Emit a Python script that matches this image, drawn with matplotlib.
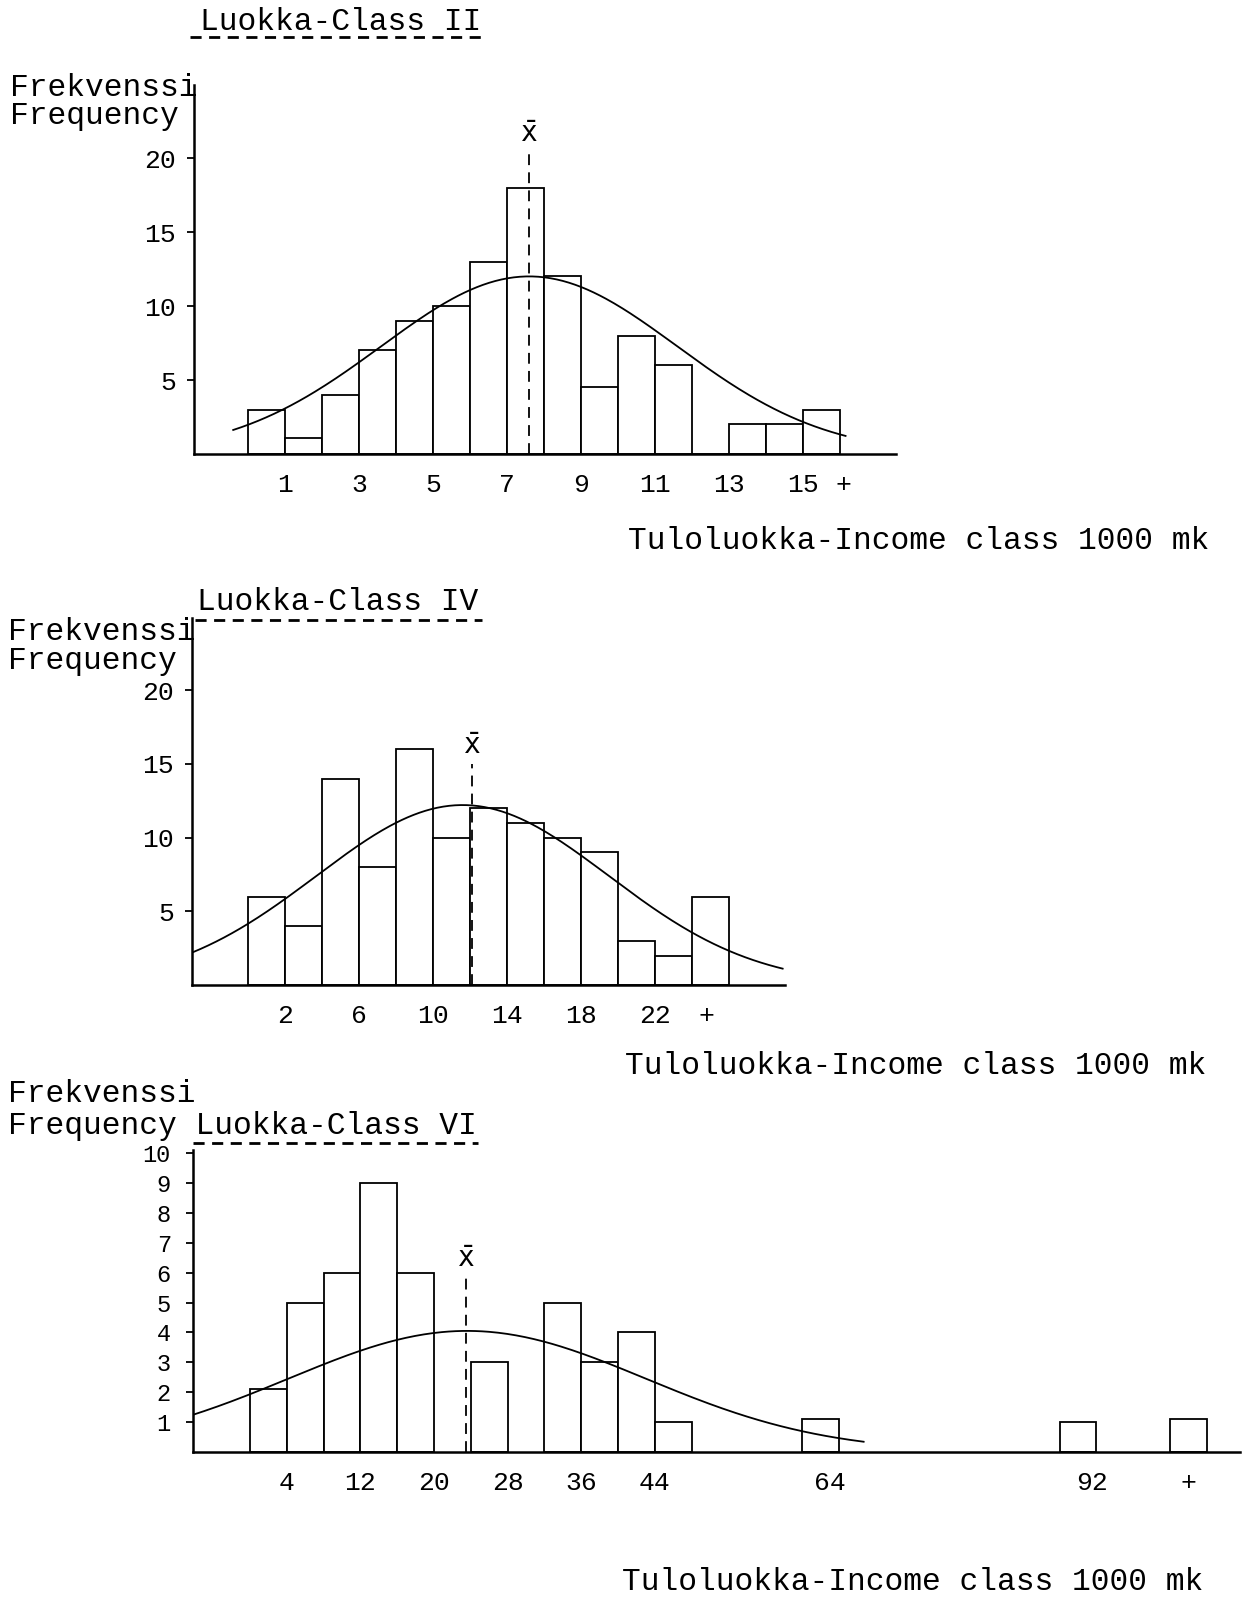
import numpy as np
from matplotlib import pyplot as plt
from matplotlib.lines import Line2D

# 数据：三个收入等级的频数分布
class2_edges = list(range(0, 16))
class2_counts = [3, 1.1, 4, 7, 9, 10, 13, 18, 12, 4.5, 8, 6, 0, 2, 2, 3]
class2_ticks = [1, 3, 5, 7, 9, 11, 13, 15, 16.1]
class2_labels = ['1', '3', '5', '7', '9', '11', '13', '15', '+']
class2_mean = 7.6
class2_curve = {'mu': 7.6, 'sd': 4.0, 'peak': 12.0, 'x0': -0.4, 'x1': 16.15}

class4_edges = list(range(0, 26, 2))
class4_counts = [6, 4, 14, 8, 16, 10, 12, 11, 10, 9, 3, 2, 6]
class4_ticks = [2, 6, 10, 14, 18, 22, 24.8]
class4_labels = ['2', '6', '10', '14', '18', '22', '+']
class4_mean = 12.1
class4_curve = {'mu': 11.6, 'sd': 7.9, 'peak': 12.2, 'x0': -3.0, 'x1': 28.9}

class6_edges = [0, 4, 8, 12, 16, 24, 32, 36, 40, 44, 60, 88, 100]
class6_counts = [2.1, 5, 6, 9, 6, 3, 5, 3, 4, 1, 1.1, 1, 1.1]
class6_ticks = [4, 12, 20, 28, 36, 44, 63, 91.5, 102]
class6_labels = ['4', '12', '20', '28', '36', '44', '64', '92', '+']
class6_mean = 23.5
class6_curve = {'mu': 23.6, 'sd': 19.4, 'peak': 4.05, 'x0': -6.2, 'x1': 66.7}

W, H = 1255, 1604
FONT = 'Liberation Mono'
fig = plt.figure(figsize=(W / 100, H / 100), dpi=100)


def px_axes(left, right, bottom, top):
    # 按像素坐标建立坐标轴
    return fig.add_axes([left / W, 1 - bottom / H, (right - left) / W, (bottom - top) / H])


def fig_text(x, y, s, size=22.5):
    fig.text(x / W, 1 - y / H, s, fontsize=size, family=FONT, va='baseline', ha='left')


def underline(x0, x1, y):
    fig.add_artist(Line2D([x0 / W, x1 / W], [1 - y / H, 1 - y / H], color='black',
                          linewidth=2, linestyle=(0, (4, 2.7))))


def draw_panel(ax, edges, counts, width, mean, curve, ticks, labels, yticks,
               xlim, ylim, mean_top, ysize=19, ypad=8):
    ax.bar(edges, counts, width=width, align='edge', facecolor='white',
           edgecolor='black', linewidth=1.3, zorder=2)
    xs = np.linspace(curve['x0'], curve['x1'], 300)
    ys = curve['peak'] * np.exp(-(xs - curve['mu']) ** 2 / (2 * curve['sd'] ** 2))
    ax.plot(xs, ys, color='black', linewidth=1.3, zorder=3)
    # 均值虚线和 x̄ 标记
    ax.plot([mean, mean], [0, mean_top], color='black', linewidth=1.3,
            linestyle=(0, (6, 4)), zorder=4)
    ax.text(mean, mean_top + ylim[1] * 0.01, r'$\bar{\mathtt{x}}$', ha='center',
            va='bottom', fontsize=20, zorder=4)
    ax.set_xlim(*xlim)
    ax.set_ylim(*ylim)
    for side in ['top', 'right']:
        ax.spines[side].set_visible(False)
    for side in ['left', 'bottom']:
        ax.spines[side].set_linewidth(1.8)
    ax.set_xticks(ticks)
    ax.set_xticklabels(labels, family=FONT, fontsize=19)
    ax.tick_params(axis='x', length=0, pad=14)
    ax.set_yticks(yticks)
    ax.set_yticklabels([str(v) for v in yticks], family=FONT, fontsize=ysize)
    ax.tick_params(axis='y', length=5, width=1.3, pad=ypad, direction='out')
    ax.patch.set_alpha(0)


# 第一张图 Class II
ax1 = px_axes(194, 896, 454, 85)
draw_panel(ax1, class2_edges, class2_counts, 1, class2_mean, class2_curve,
           class2_ticks, class2_labels, [5, 10, 15, 20],
           ((194 - 248) / 37, (896 - 248) / 37), (0, (454 - 85) / 14.8), 20.4)
fig_text(200, 30, 'Luokka-Class II')
underline(190, 486, 37)
fig_text(10, 96, 'Frekvenssi')
fig_text(10, 124, 'Frequency')
fig_text(628, 549, 'Tuloluokka-Income class 1000 mk')

# 第二张图 Class IV
ax2 = px_axes(192, 785, 985, 618)
draw_panel(ax2, class4_edges, class4_counts, 2, class4_mean, class4_curve,
           class4_ticks, class4_labels, [5, 10, 15, 20],
           ((192 - 248) / 18.5, (785 - 248) / 18.5), (0, (985 - 618) / 14.75), 15.0)
fig_text(197, 610, 'Luokka-Class IV')
underline(195, 482, 620)
fig_text(8, 640, 'Frekvenssi')
fig_text(8, 669, 'Frequency')
fig_text(625, 1074, 'Tuloluokka-Income class 1000 mk')

# 第三张图 Class VI
ax3 = px_axes(193, 1240, 1452, 1150)
draw_panel(ax3, class6_edges, class6_counts, 4, class6_mean, class6_curve,
           class6_ticks, class6_labels, list(range(1, 11)),
           ((193 - 250) / 9.2, (1240 - 250) / 9.2), (0, (1452 - 1150) / 29.9), 5.9,
           ysize=17, ypad=11)
fig_text(8, 1102, 'Frekvenssi')
fig_text(8, 1134, 'Frequency Luokka-Class VI')
underline(193, 478, 1143)
fig_text(622, 1590, 'Tuloluokka-Income class 1000 mk')

plt.savefig('out.png', dpi=100)
